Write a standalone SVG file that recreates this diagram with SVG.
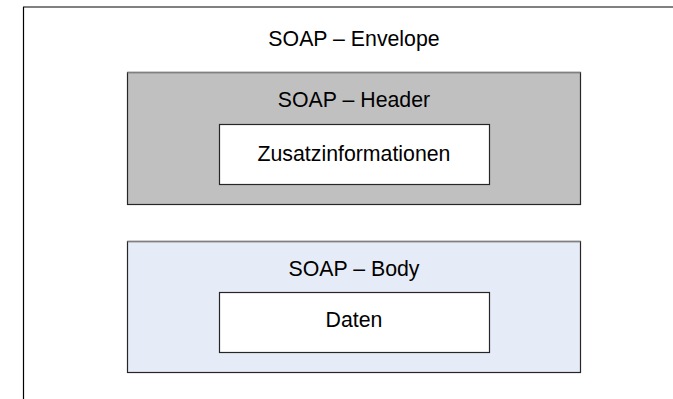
<svg xmlns="http://www.w3.org/2000/svg" width="673" height="399" viewBox="0 0 673 399">
  <style>
    .lbl { font-family: "Liberation Sans", Arial, sans-serif; font-size: 21.3px; fill: #000; text-anchor: middle; }
    .box { stroke: #262626; stroke-width: 1.2; }
    .edge { stroke: #808080; stroke-width: 1.5; }
  </style>
  <rect width="673" height="399" fill="#fff"/>

  <!-- envelope: open frame, top and left edges only -->
  <g id="envelope">
    <line x1="23" y1="7" x2="673" y2="7" stroke="#808080" stroke-width="2"/>
    <line x1="23.5" y1="7" x2="23.5" y2="399" stroke="#000" stroke-width="1.2"/>
    <text class="lbl" x="354" y="46">SOAP – Envelope</text>
  </g>

  <g id="header">
    <rect class="box" x="127.5" y="72.5" width="453" height="132" fill="#C0C0C0"/>
    <line class="edge" x1="127.5" y1="72.5" x2="580.5" y2="72.5"/>
    <text class="lbl" x="354" y="107">SOAP – Header</text>
  </g>

  <g id="zusatz">
    <rect class="box" x="219.5" y="124.5" width="270" height="60" fill="#fff"/>
    <text class="lbl" x="354" y="161">Zusatzinformationen</text>
  </g>

  <g id="body">
    <rect class="box" x="127.5" y="241.5" width="453" height="131" fill="#E6ECF7"/>
    <line class="edge" x1="127.5" y1="241.5" x2="580.5" y2="241.5"/>
    <text class="lbl" x="354" y="276">SOAP – Body</text>
  </g>

  <g id="daten">
    <rect class="box" x="219.5" y="292.5" width="270" height="60" fill="#fff"/>
    <text class="lbl" x="354" y="327">Daten</text>
  </g>

  <g id="connectors"/>
</svg>
